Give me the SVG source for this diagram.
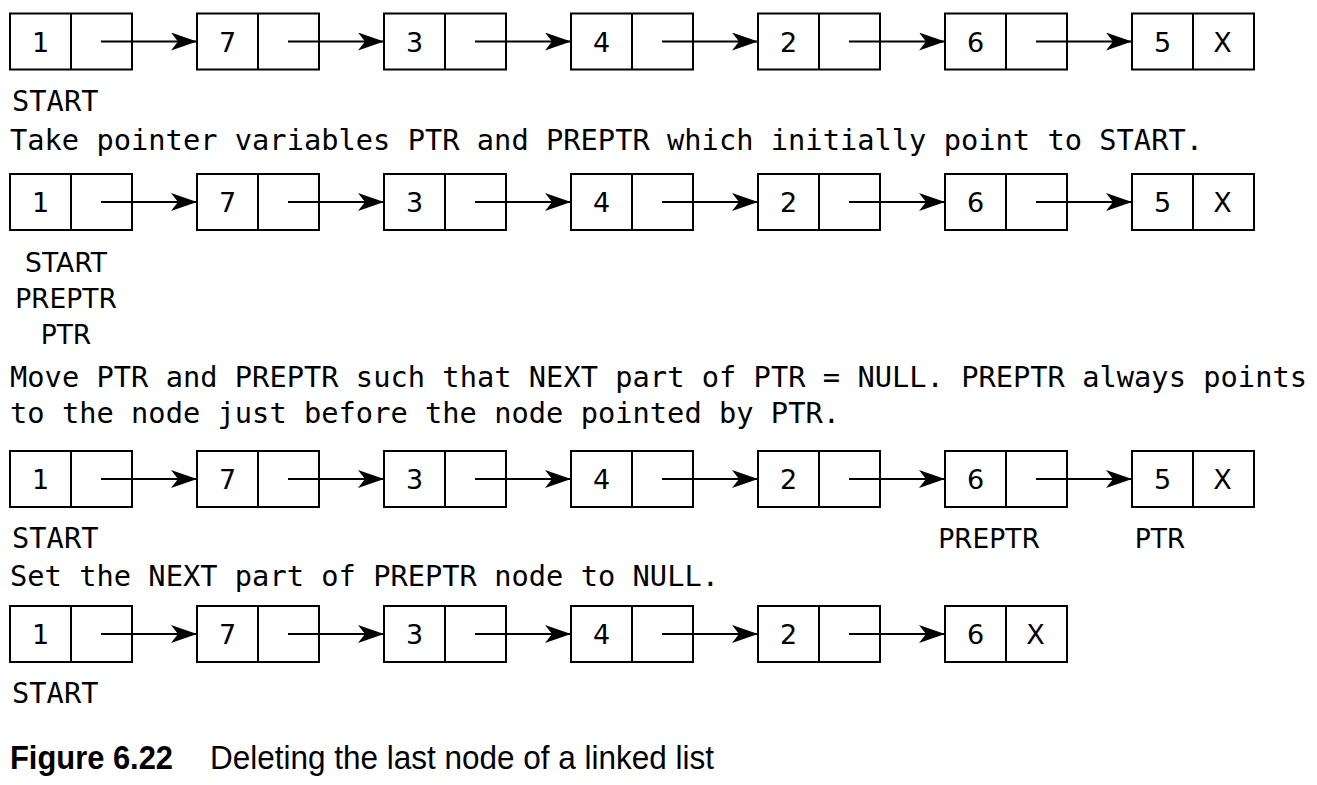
<svg xmlns="http://www.w3.org/2000/svg" width="1317" height="785" viewBox="0 0 1317 785">
<style>
.box{fill:#fff;stroke:#000;stroke-width:2}
.div{stroke:#000;stroke-width:2}
.val{font-family:"DejaVu Sans",sans-serif;font-size:27px;text-anchor:middle;fill:#000}
.mono{font-family:"DejaVu Sans Mono",monospace;font-size:28.7px;fill:#000}
.lbl{font-family:"DejaVu Sans",sans-serif;font-size:26.5px;text-anchor:middle;fill:#000}
.conn{stroke:#000;stroke-width:2;fill:none;marker-end:url(#ah)}
.capb{font-family:"Liberation Sans",Arial,sans-serif;font-weight:bold;font-size:33px;fill:#000}
.cap{font-family:"Liberation Sans",Arial,sans-serif;font-size:33px;fill:#000}
</style>
<defs>
<marker id="ah" viewBox="0 0 26 18" refX="26" refY="9" markerWidth="26" markerHeight="18" markerUnits="userSpaceOnUse" orient="auto">
<path d="M0,0 L26,9 L0,18 L7,9 Z" fill="#000"/>
</marker>
<g id="cell"><rect class="box" x="0" y="0" width="122" height="56"/><line class="div" x1="61" y1="0" x2="61" y2="56"/></g>
</defs>
<rect width="1317" height="785" fill="#fff"/>

<!-- Row 1 -->
<g id="row1" transform="translate(0,13.5)">
<g id="r1n1"><use href="#cell" x="10"/><text class="val" x="40.5" y="38">1</text></g>
<g id="r1n2"><use href="#cell" x="197"/><text class="val" x="227.5" y="38">7</text></g>
<g id="r1n3"><use href="#cell" x="384"/><text class="val" x="414.5" y="38">3</text></g>
<g id="r1n4"><use href="#cell" x="571"/><text class="val" x="601.5" y="38">4</text></g>
<g id="r1n5"><use href="#cell" x="758"/><text class="val" x="788.5" y="38">2</text></g>
<g id="r1n6"><use href="#cell" x="945"/><text class="val" x="975.5" y="38">6</text></g>
<g id="r1n7"><use href="#cell" x="1132"/><text class="val" x="1162.5" y="38">5</text><text class="val" x="1222.5" y="38">X</text></g>
<g id="connectors-r1">
<line class="conn" x1="101" y1="28" x2="197" y2="28"/>
<line class="conn" x1="288" y1="28" x2="384" y2="28"/>
<line class="conn" x1="475" y1="28" x2="571" y2="28"/>
<line class="conn" x1="662" y1="28" x2="758" y2="28"/>
<line class="conn" x1="849" y1="28" x2="945" y2="28"/>
<line class="conn" x1="1036" y1="28" x2="1132" y2="28"/>
</g>
</g>
<text class="mono" x="12" y="111" textLength="86.5">START</text>
<text class="mono" x="10" y="150" textLength="1193">Take pointer variables PTR and PREPTR which initially point to START.</text>

<!-- Row 2 -->
<g id="row2" transform="translate(0,174)">
<g id="r2n1"><use href="#cell" x="10"/><text class="val" x="40.5" y="38">1</text></g>
<g id="r2n2"><use href="#cell" x="197"/><text class="val" x="227.5" y="38">7</text></g>
<g id="r2n3"><use href="#cell" x="384"/><text class="val" x="414.5" y="38">3</text></g>
<g id="r2n4"><use href="#cell" x="571"/><text class="val" x="601.5" y="38">4</text></g>
<g id="r2n5"><use href="#cell" x="758"/><text class="val" x="788.5" y="38">2</text></g>
<g id="r2n6"><use href="#cell" x="945"/><text class="val" x="975.5" y="38">6</text></g>
<g id="r2n7"><use href="#cell" x="1132"/><text class="val" x="1162.5" y="38">5</text><text class="val" x="1222.5" y="38">X</text></g>
<g id="connectors-r2">
<line class="conn" x1="101" y1="28" x2="197" y2="28"/>
<line class="conn" x1="288" y1="28" x2="384" y2="28"/>
<line class="conn" x1="475" y1="28" x2="571" y2="28"/>
<line class="conn" x1="662" y1="28" x2="758" y2="28"/>
<line class="conn" x1="849" y1="28" x2="945" y2="28"/>
<line class="conn" x1="1036" y1="28" x2="1132" y2="28"/>
</g>
</g>
<text class="lbl" x="66" y="272">START</text>
<text class="lbl" x="66" y="308">PREPTR</text>
<text class="lbl" x="66" y="344">PTR</text>
<text class="mono" x="10" y="387" textLength="1297">Move PTR and PREPTR such that NEXT part of PTR = NULL. PREPTR always points</text>
<text class="mono" x="10" y="423" textLength="830">to the node just before the node pointed by PTR.</text>

<!-- Row 3 -->
<g id="row3" transform="translate(0,451)">
<g id="r3n1"><use href="#cell" x="10"/><text class="val" x="40.5" y="38">1</text></g>
<g id="r3n2"><use href="#cell" x="197"/><text class="val" x="227.5" y="38">7</text></g>
<g id="r3n3"><use href="#cell" x="384"/><text class="val" x="414.5" y="38">3</text></g>
<g id="r3n4"><use href="#cell" x="571"/><text class="val" x="601.5" y="38">4</text></g>
<g id="r3n5"><use href="#cell" x="758"/><text class="val" x="788.5" y="38">2</text></g>
<g id="r3n6"><use href="#cell" x="945"/><text class="val" x="975.5" y="38">6</text></g>
<g id="r3n7"><use href="#cell" x="1132"/><text class="val" x="1162.5" y="38">5</text><text class="val" x="1222.5" y="38">X</text></g>
<g id="connectors-r3">
<line class="conn" x1="101" y1="28" x2="197" y2="28"/>
<line class="conn" x1="288" y1="28" x2="384" y2="28"/>
<line class="conn" x1="475" y1="28" x2="571" y2="28"/>
<line class="conn" x1="662" y1="28" x2="758" y2="28"/>
<line class="conn" x1="849" y1="28" x2="945" y2="28"/>
<line class="conn" x1="1036" y1="28" x2="1132" y2="28"/>
</g>
</g>
<text class="mono" x="12" y="548" textLength="86.5">START</text>
<text class="lbl" x="989" y="548">PREPTR</text>
<text class="lbl" x="1160" y="548">PTR</text>
<text class="mono" x="10" y="586" textLength="709">Set the NEXT part of PREPTR node to NULL.</text>

<!-- Row 4 -->
<g id="row4" transform="translate(0,606)">
<g id="r4n1"><use href="#cell" x="10"/><text class="val" x="40.5" y="38">1</text></g>
<g id="r4n2"><use href="#cell" x="197"/><text class="val" x="227.5" y="38">7</text></g>
<g id="r4n3"><use href="#cell" x="384"/><text class="val" x="414.5" y="38">3</text></g>
<g id="r4n4"><use href="#cell" x="571"/><text class="val" x="601.5" y="38">4</text></g>
<g id="r4n5"><use href="#cell" x="758"/><text class="val" x="788.5" y="38">2</text></g>
<g id="r4n6"><use href="#cell" x="945"/><text class="val" x="975.5" y="38">6</text><text class="val" x="1035.5" y="38">X</text></g>
<g id="connectors-r4">
<line class="conn" x1="101" y1="28" x2="197" y2="28"/>
<line class="conn" x1="288" y1="28" x2="384" y2="28"/>
<line class="conn" x1="475" y1="28" x2="571" y2="28"/>
<line class="conn" x1="662" y1="28" x2="758" y2="28"/>
<line class="conn" x1="849" y1="28" x2="945" y2="28"/>
</g>
</g>
<text class="mono" x="12" y="703" textLength="86.5">START</text>

<text class="capb" x="10" y="769" textLength="163" lengthAdjust="spacingAndGlyphs">Figure 6.22</text>
<text class="cap" x="210" y="769" textLength="504" lengthAdjust="spacingAndGlyphs">Deleting the last node of a linked list</text>
</svg>
